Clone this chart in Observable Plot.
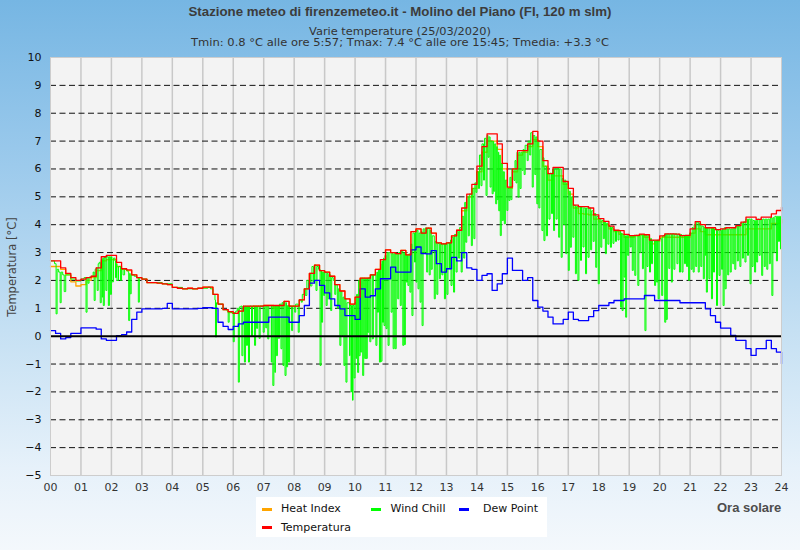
<!DOCTYPE html>
<html><head><meta charset="utf-8">
<script src="https://cdn.jsdelivr.net/npm/d3@7"></script>
<script src="https://cdn.jsdelivr.net/npm/@observablehq/plot@0.6"></script>
<style>
body{margin:0;background:#fff;}
#page{position:relative;width:800px;height:550px;overflow:hidden;
 background:linear-gradient(to bottom,#76b6e3 0%,#9ccaec 30%,#c5e0f3 60%,#e6f1fa 85%,#f4f8fc 100%);
 font-family:"DejaVu Sans",sans-serif;}
#head{position:absolute;left:0;top:0;}
#chart{position:absolute;left:0;top:0;}
#ylab{position:absolute;left:12px;top:267px;transform:translate(-50%,-50%) rotate(-90deg);font-size:11.5px;color:#444;white-space:nowrap;}
#legend{position:absolute;left:256px;top:497px;width:291px;height:40px;background:#fff;}
.li{position:absolute;font-size:11px;color:#111;line-height:13px;white-space:nowrap;}
.sw{position:absolute;width:10px;height:3px;}
#ora{position:absolute;left:717px;top:500px;font-family:"Liberation Sans",Arial,sans-serif;font-weight:bold;font-size:13px;color:#4d4d4d;white-space:nowrap;}
</style></head><body>
<div id="page">
<div id="chart"></div>
<svg id="head" width="800" height="55">
 <text x="400" y="16" text-anchor="middle" textLength="423" lengthAdjust="spacingAndGlyphs" font-family="Liberation Sans Narrow, Liberation Sans, Arial, sans-serif" font-weight="bold" font-size="13.5" fill="#3c3c3c">Stazione meteo di firenzemeteo.it - Molino del Piano (FI, 120 m slm)</text>
 <text x="400" y="34.5" text-anchor="middle" textLength="182" lengthAdjust="spacingAndGlyphs" font-family="DejaVu Sans, sans-serif" font-size="9.8" fill="#333">Varie temperature (25/03/2020)</text>
 <text x="400" y="46" text-anchor="middle" textLength="418" lengthAdjust="spacingAndGlyphs" font-family="DejaVu Sans, sans-serif" font-size="9.8" fill="#333">Tmin: 0.8 °C alle ore 5:57; Tmax: 7.4 °C alle ore 15:45; Tmedia: +3.3 °C</text>
</svg>
<div id="ylab">Temperatura [°C]</div>
<div id="legend"></div>
<div id="ora">Ora solare</div>
</div>
<script>
// ---- data ----
const hourLabels = ["00","01","02","03","04","05","06","07","08","09","10","11","12","13","14","15","16","17","18","19","20","21","22","23","24"];
const yTickValues = [-5,-4,-3,-2,-1,0,1,2,3,4,5,6,7,8,9,10];
const seriesNames = ["Heat Index","Wind Chill","Dew Point","Temperatura"];
const seriesColors = ["#ffa500","#00ff00","#0000ff","#ff0000"];

// 10-minute readings, 00:00 .. 24:00
const temperatura = [
 2.7,2.7,2.45,2.25,2.1,2.0,
 2.05,2.1,2.15,2.45,2.85,2.9,
 2.9,2.65,2.42,2.38,2.2,2.1,
 2.05,1.92,1.92,1.9,1.88,1.85,
 1.75,1.72,1.7,1.72,1.7,1.72,
 1.76,1.76,1.5,1.15,0.95,0.88,
 0.82,0.9,1.08,1.08,1.08,1.08,
 1.1,1.1,1.1,1.1,1.25,1.08,
 1.08,1.3,1.7,2.25,2.55,2.35,
 2.3,2.15,1.85,1.62,1.34,1.15,
 1.4,2.08,2.08,2.2,2.4,2.75,
 3.1,3.0,2.96,3.08,2.92,3.75,
 3.85,3.7,3.88,3.7,3.35,3.31,
 3.35,3.6,3.8,4.6,5.1,5.45,
 6.1,6.8,7.26,7.26,6.9,6.2,
 5.35,6.0,6.66,6.66,6.9,7.35,
 7.0,6.3,5.83,6.06,6.06,5.55,
 5.3,4.7,4.65,4.65,4.6,4.35,
 4.22,4.12,3.95,3.8,3.79,3.65,
 3.61,3.62,3.66,3.64,3.45,3.45,
 3.6,3.67,3.67,3.66,3.61,3.62,
 3.85,4.11,4.0,3.89,3.89,3.82,
 3.85,3.89,3.89,3.97,4.09,4.27,
 4.27,4.19,4.27,4.27,4.39,4.51,
 4.63];

const heatIndex = [
 2.5,2.5,2.4,2.2,1.95,1.8,
 1.85,2.0,2.1,2.35,2.7,2.75,
 2.75,2.5,2.4,2.35,2.2,2.1,
 2.05,1.92,1.92,1.9,1.88,1.85,
 1.75,1.72,1.7,1.72,1.7,1.72,
 1.76,1.76,1.5,1.15,0.95,0.85,
 0.82,0.9,1.0,1.05,1.08,1.08,
 1.1,1.1,1.0,1.1,1.25,1.08,
 1.08,1.3,1.7,2.25,2.55,2.35,
 2.3,2.15,1.85,1.62,1.34,1.15,
 1.4,2.08,2.08,2.2,2.4,2.75,
 3.1,3.0,2.96,3.08,2.92,3.75,
 3.85,3.7,3.88,3.7,3.35,3.31,
 3.35,3.6,3.8,4.5,5.0,5.3,
 5.9,6.6,7.0,7.0,6.7,6.0,
 5.3,5.9,6.5,6.6,6.8,7.05,
 6.8,6.1,5.6,5.75,5.75,5.45,
 5.1,4.6,4.4,4.38,4.35,4.2,
 4.1,4.0,3.85,3.75,3.65,3.55,
 3.55,3.6,3.64,3.55,3.31,3.4,
 3.55,3.55,3.55,3.55,3.55,3.55,
 3.7,3.85,3.75,3.64,3.64,3.64,
 3.64,3.64,3.64,3.64,3.64,3.85,
 3.85,3.85,3.85,3.85,4.05,4.05,
 4.2];

const dewPoint = [
 0.2,0.1,-0.1,-0.05,0.1,0.1,
 0.3,0.3,0.3,0.25,-0.1,-0.15,
 -0.15,0.02,0.05,0.15,0.6,0.86,
 0.98,0.98,0.98,0.98,1.0,1.18,
 0.98,0.98,0.98,0.98,0.98,1.0,
 1.02,1.02,1.0,0.5,0.35,0.24,
 0.35,0.44,0.5,0.5,0.5,0.5,
 0.5,0.68,0.68,0.68,0.68,0.5,
 0.5,0.74,1.1,1.9,2.0,1.82,
 1.55,1.34,1.1,0.98,0.74,0.74,
 0.6,1.7,1.4,1.45,1.7,2.06,
 2.06,2.48,2.3,2.3,2.3,3.1,
 3.2,2.96,2.95,3.07,2.6,2.3,
 2.42,2.83,2.7,3.0,2.45,2.4,
 2.0,2.18,2.24,1.64,1.88,2.24,
 2.8,2.36,2.36,2.0,2.1,1.28,
 1.04,0.9,0.68,0.44,0.44,0.6,
 0.86,0.6,0.56,0.56,0.7,0.92,
 1.1,1.1,1.2,1.28,1.28,1.34,
 1.34,1.34,1.34,1.46,1.46,1.28,
 1.28,1.28,1.28,1.28,1.2,1.2,
 1.2,1.2,1.2,0.98,0.74,0.5,
 0.29,0.29,0.03,-0.15,-0.15,-0.45,
 -0.69,-0.45,-0.45,-0.15,-0.45,-0.57,
 -0.99];

// wind chill readings: [minute of day, °C]
const windChill = [
[0,2.7],[4,2.7],[8,2.6],[11,0.8],[13,2.4],[16,2.3],[19,1.2],[21,2.3],[24,2.2],[27,1.6],[30,2.2],[40,2.05],[50,1.98],
[60,2.05],[66,2.1],[68,2.1],[70,0.86],[72,2.1],[74,1.9],[76,2.12],[80,2.15],[84,2.3],[86,1.28],[88,2.4],[90,2.45],[92,1.64],[94,2.6],[96,2.65],[98,1.2],[100,2.75],[102,1.4],[103,2.8],[104,1.1],[106,2.85],[108,2.8],[109,1.64],[111,2.85],[114,1.1],[116,2.85],[118,1.5],[120,2.85],[121,1.95],[124,2.8],[127,2.7],[128,2.1],[130,2.6],[131,2.0],[134,2.5],[138,2.0],[140,2.4],[143,2.2],[146,2.4],[150,2.35],[153,2.3],[154,0.56],[156,2.25],[157,1.52],[159,2.2],[165,2.15],[170,2.1],[172,2.1],[173,1.22],[175,2.1],[180,2.05],
[190,1.92],[220,1.88],[240,1.75],[260,1.7],[290,1.72],[310,1.76],[315,1.7],
[320,1.5],[324,1.3],[325,-0.03],[327,1.2],[330,1.15],[340,0.95],[348,0.9],[350,0.5],[352,0.88],[355,0.85],[358,0.82],[360,-0.2],[362,0.85],[365,0.9],[368,1.0],[370,-1.65],[372,1.05],[375,1.08],[377,-0.7],[379,1.08],[382,-0.93],[384,1.08],[386,-0.33],[388,1.08],[390,-0.93],[392,1.08],[396,0.0],[398,1.08],[402,-0.33],[404,1.08],[406,0.28],[408,1.08],[411,-0.08],[413,1.08],[416,1.08],[419,0.14],[421,1.1],[424,0.3],[426,1.1],[428,-0.1],[430,1.1],[435,-0.93],[436,1.1],[438,-1.77],[440,1.1],[442,-1.3],[443,1.1],[445,-0.7],[447,1.1],[449,-0.08],[451,1.15],[454,-0.45],[456,1.2],[458,-1.05],[460,1.25],[462,-1.41],[464,1.2],[465,-1.1],[467,1.1],[469,-0.93],[471,1.08],[475,0.2],[477,1.08],[481,0.86],[483,1.15],[488,0.14],[490,1.3],[494,1.22],[496,1.5],[500,1.7],[502,1.46],[505,2.0],[508,1.7],[510,2.25],[512,1.8],[515,2.5],[518,1.94],[520,2.55],[523,1.64],[525,2.5],[528,2.4],[531,-1.05],[533,2.35],[534,0.5],[536,2.3],[538,1.46],[540,2.3],[543,1.1],[545,2.25],[547,1.34],[549,2.2],[552,0.92],[554,2.1],[557,2.0],[560,1.5],[562,1.85],[565,1.0],[567,1.7],[570,-0.33],[572,1.6],[574,0.02],[576,1.4],[578,-1.05],[580,1.34],[582,-1.65],[584,1.2],[589,-0.7],[590,1.1],[592,-2.0],[593,1.1],[595,-2.3],[596,1.1],[598,-1.5],[600,1.2],
[602,-0.8],[603,1.5],[605,-1.3],[607,2.0],[608,-0.7],[610,2.05],[611,-0.57],[613,2.08],[615,-1.41],[617,2.08],[619,-0.8],[621,2.08],[622,-0.8],[624,2.08],[625,0.14],[627,2.1],[629,-0.2],[631,2.2],[634,-0.1],[636,2.2],[641,-0.33],[643,2.3],[644,0.86],[646,2.4],[648,-0.93],[650,2.6],[651,-0.9],[653,2.7],[654,0.5],[656,2.8],[657,0.38],[659,2.9],[661,0.27],[663,3.0],[665,-0.33],[667,3.0],[671,0.86],[673,2.96],[675,-0.45],[677,2.96],[679,-0.45],[681,2.96],[684,1.34],[686,3.0],[689,1.1],[691,3.05],[694,-0.33],[696,3.0],[697,-0.3],[699,2.95],[701,1.94],[703,2.9],[704,1.82],[706,2.95],[708,1.58],[710,3.3],[712,0.74],[714,3.7],[717,2.66],[719,3.8],[720,1.94],[722,3.8],[724,1.7],[726,3.7],[728,1.22],[730,3.75],[732,0.38],[734,3.85],[736,3.0],[738,3.88],[741,2.3],[743,3.88],[746,2.2],[748,3.8],[750,2.4],[752,3.6],[756,1.34],[758,3.4],[761,1.5],[763,3.33],[766,2.06],[768,3.31],[771,2.2],[773,3.31],[776,1.34],[778,3.31],[781,1.5],[783,3.35],[786,2.42],[788,3.45],[789,1.82],[791,3.55],[794,1.58],[796,3.65],[799,2.3],[801,3.75],[804,2.8],[806,3.9],[809,2.3],[811,4.3],[814,2.8],[816,4.8],[818,3.37],[820,5.0],[823,3.6],[825,5.1],[829,3.25],[831,5.3],[834,3.5],[836,5.5],[838,5.16],[840,5.9],[843,5.3],[845,6.5],[848,5.4],[850,6.9],[853,5.6],[855,7.1],[858,5.05],[860,7.2],[862,6.42],[864,7.15],[866,5.35],[868,7.0],[870,5.11],[872,7.0],[873,5.2],[875,6.9],[877,4.75],[879,6.8],[880,4.9],[882,6.6],[883,4.5],[885,6.5],[886,3.61],[888,6.2],[890,4.15],[892,5.9],[894,4.03],[896,5.6],[899,4.51],[901,5.3],[903,4.87],[905,5.7],[907,4.9],[909,6.0],[913,5.59],[915,6.3],[917,5.5],[919,6.6],[921,4.99],[923,6.6],[925,5.3],[927,6.6],[929,5.95],[931,6.7],[933,5.8],[935,6.85],[939,6.3],[941,7.0],[944,6.5],[946,7.3],[949,5.35],[951,7.2],[954,5.8],[956,7.15],[958,4.75],[960,7.0],[962,4.6],[964,6.7],[968,3.79],[970,6.4],[972,3.43],[974,6.1],[977,3.6],[979,5.85],[982,4.2],[984,5.85],[987,4.4],[989,6.0],[991,3.79],[993,6.0],[996,4.2],[998,6.05],[1001,3.55],[1003,6.0],[1006,2.83],[1008,5.65],[1011,4.0],[1013,5.6],[1015,2.96],[1017,5.5],[1020,2.36],[1022,5.2],[1024,3.19],[1026,5.0],[1029,3.55],[1031,4.7],[1034,2.24],[1036,4.65],[1039,2.0],[1041,4.65],[1044,2.72],[1046,4.65],[1049,3.2],[1051,4.6],[1054,2.24],[1056,4.6],[1059,2.83],[1061,4.6],[1064,3.1],[1066,4.5],[1069,3.4],[1071,4.4],[1074,2.47],[1076,4.3],[1079,1.88],[1081,4.2],[1084,3.19],[1086,4.15],[1089,3.5],[1091,4.1],[1093,2.96],[1095,4.05],[1098,3.3],[1100,3.95],[1103,3.19],[1105,3.9],[1108,3.33],[1110,3.8],[1113,3.4],[1115,3.79],[1118,3.45],[1120,3.79],[1123,1.04],[1125,3.7],[1126,0.92],[1128,3.65],[1130,2.12],[1132,3.6],[1133,0.68],[1135,3.61],[1137,2.9],[1139,3.61],[1142,3.2],[1144,3.61],[1146,2.36],[1148,3.6],[1151,2.18],[1153,3.62],[1157,1.82],[1159,3.62],[1161,3.0],[1163,3.64],[1166,2.42],[1168,3.64],[1171,0.2],[1173,3.64],[1175,2.5],[1177,3.6],[1180,2.3],[1182,3.5],[1184,2.6],[1186,3.43],[1190,1.82],[1192,3.43],[1194,1.94],[1196,3.45],[1197,1.34],[1199,3.5],[1204,1.46],[1206,3.6],[1210,0.5],[1212,3.67],[1213,0.6],[1215,3.67],[1218,2.43],[1220,3.67],[1223,1.94],[1225,3.67],[1228,2.4],[1230,3.67],[1234,2.6],[1236,3.66],[1239,2.3],[1241,3.64],[1244,2.3],[1246,3.62],[1249,2.6],[1251,3.62],[1253,2.5],[1255,3.62],[1257,2.0],[1259,3.7],[1262,2.4],[1264,3.9],[1266,2.3],[1268,4.0],[1271,2.5],[1273,4.1],[1276,2.3],[1278,4.05],[1281,2.5],[1283,3.95],[1286,2.06],[1288,3.9],[1290,2.9],[1291,3.89],[1292,1.58],[1294,3.89],[1297,2.06],[1299,3.89],[1302,1.34],[1304,3.89],[1306,2.3],[1308,3.85],[1312,1.1],[1314,3.8],[1317,2.18],[1319,3.8],[1322,2.4],[1324,3.85],[1325,1.1],[1327,3.89],[1329,1.7],[1331,3.85],[1334,2.2],[1336,3.85],[1339,2.3],[1341,3.85],[1344,2.6],[1346,3.9],[1348,2.4],[1350,3.95],[1353,2.7],[1355,3.95],[1358,2.5],[1360,4.05],[1363,2.8],[1365,4.1],[1368,2.66],[1370,4.2],[1373,2.9],[1375,4.2],[1378,1.88],[1380,4.2],[1382,2.5],[1384,4.15],[1387,2.3],[1389,4.15],[1391,2.66],[1393,4.2],[1396,2.9],[1398,4.2],[1401,2.18],[1403,4.2],[1406,2.5],[1408,4.2],[1411,2.4],[1413,4.2],[1416,2.6],[1418,4.25],[1421,1.46],[1423,4.25],[1425,3.0],[1427,4.3],[1430,2.7],[1432,4.3],[1434,3.4],[1436,4.3],[1438,3.13],[1440,3.5]
];

// ---- build rows ----
const tenMin = arr => arr.map((v, i) => ({h: i / 6, v}));
const tRows = tenMin(temperatura);
const hiRows = tenMin(heatIndex);
const dpRows = tenMin(dewPoint);
const wcRows = windChill.map(([m, v]) => ({h: m / 60, v}));
const gridY = yTickValues.filter(v => v !== 0 && v !== -5 && v !== 10);
const hours = hourLabels.map((_, i) => i);

const lineOpts = (color, w) => ({x: "h", y: "v", stroke: color, strokeWidth: w, curve: "step-after"});

const chart = Plot.plot({
  width: 800, height: 500,
  marginLeft: 50, marginRight: 19, marginTop: 57, marginBottom: 25,
  x: {domain: [0, 24]},
  y: {domain: [-5, 10]},
  style: {background: "transparent", fontFamily: "DejaVu Sans, sans-serif", fontSize: "11px", color: "#1a1a1a"},
  marks: [
    Plot.frame({fill: "#f3f3f3", stroke: "none"}),
    Plot.ruleX(hours.slice(1, 24), {stroke: "#c8c8c8", strokeWidth: 1.5}),
    Plot.ruleY(gridY, {stroke: "#111", strokeWidth: 1, strokeDasharray: "6,3.5"}),
    Plot.line(hiRows, lineOpts(seriesColors[0], 1.3)),
    Plot.line(wcRows, lineOpts(seriesColors[1], 1)),
    Plot.line(dpRows, lineOpts(seriesColors[2], 1.3)),
    Plot.line(tRows, lineOpts(seriesColors[3], 1.3)),
    Plot.ruleY([0], {stroke: "#000", strokeWidth: 2}),
    Plot.frame({stroke: "#cdcdcd"}),
    Plot.axisX(hours, {tickSize: 0, tickPadding: 8, tickFormat: d => hourLabels[d], label: null, fill: "#333"}),
    Plot.axisY(yTickValues, {tickSize: 0, tickPadding: 9, label: null, fill: "#111"})
  ]
});
document.getElementById("chart").appendChild(chart);

// ---- legend ----
const legend = document.getElementById("legend");
const legendPos = [
  {name: seriesNames[0], color: seriesColors[0], sx: 6, tx: 25, y: 5},
  {name: seriesNames[1], color: seriesColors[1], sx: 115, tx: 134.5, y: 5},
  {name: seriesNames[2], color: seriesColors[2], sx: 202.5, tx: 227, y: 5},
  {name: seriesNames[3], color: seriesColors[3], sx: 6, tx: 25, y: 23.5}
];
for (const p of legendPos) {
  const sw = document.createElement("div");
  sw.className = "sw"; sw.style.left = p.sx + "px"; sw.style.top = (p.y + 5.5) + "px"; sw.style.background = p.color;
  legend.appendChild(sw);
  const t = document.createElement("div");
  t.className = "li"; t.style.left = p.tx + "px"; t.style.top = p.y + "px"; t.textContent = p.name;
  legend.appendChild(t);
}
</script>
</body></html>
